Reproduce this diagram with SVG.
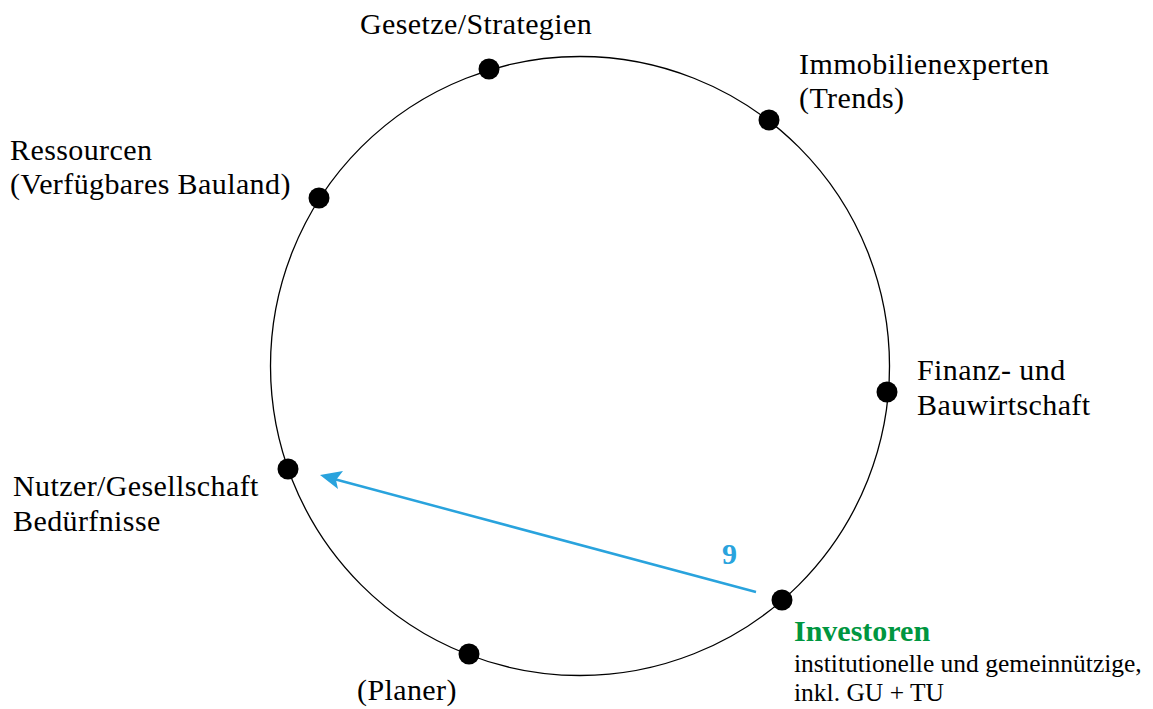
<svg xmlns="http://www.w3.org/2000/svg" width="1153" height="709" viewBox="0 0 1153 709">
  <style>
    .lbl { font-family: "Liberation Serif", "Times New Roman", serif; font-size: 30px; letter-spacing: 0.4px; fill: #000; }
    .small { font-family: "Liberation Serif", "Times New Roman", serif; font-size: 25.5px; fill: #000; }
    .head { font-family: "Liberation Serif", "Times New Roman", serif; font-size: 30px; font-weight: bold; fill: #009640; }
    .num { font-family: "Liberation Serif", "Times New Roman", serif; font-size: 30px; font-weight: bold; fill: #29a3dd; }
    .dot { fill: #000; }
    .flow { stroke: #29a3dd; stroke-width: 2.5; fill: none; }
    .head-tip { fill: #29a3dd; }
  </style>
  <rect width="1153" height="709" fill="#fff"/>

  <!-- ring of actors -->
  <circle cx="580" cy="366" r="309.5" fill="none" stroke="#000" stroke-width="1.3"/>

  <g id="connectors">
    <line class="flow" x1="756" y1="592" x2="334" y2="479"/>
    <path class="head-tip" d="M320,475 L343,471 L336,480 L338,489 Z"/>
    <text class="num" x="722" y="564">9</text>
  </g>

  <g id="gesetze">
    <circle class="dot" cx="489" cy="69" r="10.5"/>
    <text class="lbl" x="360" y="34">Gesetze/Strategien</text>
  </g>
  <g id="immobilienexperten">
    <circle class="dot" cx="769" cy="120" r="10.5"/>
    <text class="lbl" x="799" y="74">Immobilienexperten</text>
    <text class="lbl" x="799" y="108">(Trends)</text>
  </g>
  <g id="ressourcen">
    <circle class="dot" cx="319" cy="198" r="10.5"/>
    <text class="lbl" x="10" y="160">Ressourcen</text>
    <text class="lbl" x="10" y="194">(Verfügbares Bauland)</text>
  </g>
  <g id="finanz">
    <circle class="dot" cx="887" cy="392" r="10.5"/>
    <text class="lbl" x="917" y="380">Finanz- und</text>
    <text class="lbl" x="917" y="415">Bauwirtschaft</text>
  </g>
  <g id="nutzer">
    <circle class="dot" cx="288" cy="469" r="10.5"/>
    <text class="lbl" x="13" y="496">Nutzer/Gesellschaft</text>
    <text class="lbl" x="13" y="531">Bedürfnisse</text>
  </g>
  <g id="investoren">
    <circle class="dot" cx="782" cy="600" r="10.5"/>
    <text class="head" x="794" y="641">Investoren</text>
    <text class="small" x="794" y="672">institutionelle und gemeinnützige,</text>
    <text class="small" x="794" y="701">inkl. GU + TU</text>
  </g>
  <g id="planer">
    <circle class="dot" cx="469" cy="654" r="10.5"/>
    <text class="lbl" x="357" y="700">(Planer)</text>
  </g>
</svg>
